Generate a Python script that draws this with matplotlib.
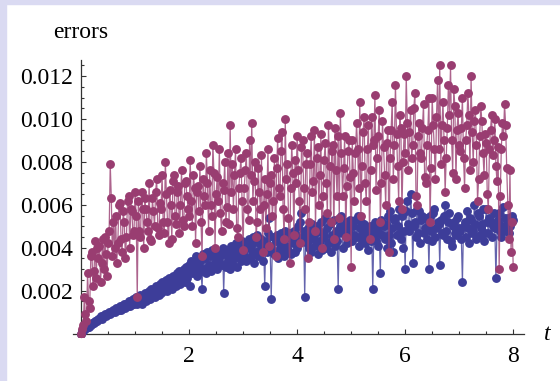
import numpy as np
import matplotlib
matplotlib.use("Agg")
import matplotlib.pyplot as plt
from matplotlib.patches import Rectangle
from matplotlib.ticker import MultipleLocator, FixedLocator

# sampled every 0.02 in t (0..8), values in units of 1e-4
dt = 0.02
blue_e4 = [
    0, 1, 1, 2, 2, 3, 3, 3, 4, 4,
    5, 5, 5, 6, 6, 6, 7, 7, 8, 7,
    8, 8, 9, 8, 9, 9, 10, 9, 10, 10,
    11, 10, 12, 11, 12, 11, 13, 11, 13, 12,
    14, 12, 14, 13, 15, 13, 15, 14, 16, 14,
    15,
    # 1 - 2
    17, 14, 16, 15, 18, 14, 17, 16, 19, 15,
    18, 17, 20, 16, 21, 18, 20, 17, 22, 19,
    21, 18, 23, 19, 24, 20, 22, 21, 25, 20,
    26, 22, 24, 21, 27, 23, 25, 22, 28, 24,
    29, 23, 27, 25, 30, 24, 31, 26, 29, 32,
    # 2 - 3
    22, 34, 28, 33, 30, 36, 27, 35, 31, 34,
    29, 21, 37, 30, 35, 28, 38, 32, 36, 29,
    39, 31, 37, 33, 35, 30, 38, 34, 36, 32,
    40, 19, 37, 31, 39, 34, 36, 30, 41, 33,
    38, 35, 42, 31, 39, 36, 40, 34, 43, 37,
    # 3 - 4
    36, 42, 34, 40, 44, 35, 41, 37, 45, 33,
    43, 38, 46, 36, 42, 39, 44, 34, 40, 22,
    43, 38, 47, 54, 41, 16, 39, 45, 37, 43,
    46, 35, 44, 40, 47, 38, 42, 36, 48, 41,
    45, 39, 47, 37, 44, 42, 48, 38, 46, 40,
    # 4 - 5
    50, 44, 52, 56, 45, 48, 17, 46, 42, 49,
    40, 47, 38, 51, 44, 46, 41, 50, 37, 48,
    43, 52, 39, 47, 45, 54, 40, 49, 42, 51,
    38, 46, 44, 53, 41, 48, 43, 21, 47, 50,
    55, 40, 49, 46, 52, 42, 48, 45, 53, 51,
    # 5 - 6
    43, 50, 46, 53, 45, 55, 41, 49, 52, 44,
    47, 51, 42, 48, 45, 39, 50, 43, 47, 21,
    46, 52, 43, 49, 41, 47, 28, 53, 46, 50,
    44, 51, 40, 55, 46, 57, 42, 49, 38, 53,
    54, 46, 50, 58, 47, 44, 55, 40, 48, 30,
    # 6 - 7
    57, 62, 51, 48, 65, 56, 33, 50, 52, 45,
    58, 47, 57, 42, 53, 55, 47, 49, 54, 44,
    50, 30, 55, 48, 43, 56, 58, 45, 49, 52,
    51, 32, 53, 47, 46, 55, 60, 48, 44, 52,
    56, 43, 41, 50, 52, 47, 46, 54, 55, 49,
    # 7 - 8
    48, 44, 24, 50, 52, 45, 57, 49, 42, 54,
    53, 47, 48, 60, 51, 44, 56, 55, 46, 49,
    51, 58, 43, 47, 58, 52, 47, 54, 52, 45,
    50, 56, 49, 26, 49, 53, 56, 48, 45, 50,
    59, 54, 48, 51, 54, 47, 50, 52, 55, 53,
]
purple_e4 = [
    0, 2, 4, 17, 9, 6, 28, 15, 12, 36,
    38, 22, 29, 43, 26, 40, 35, 41, 24, 33,
    44, 30, 45, 37, 27, 42, 48, 79, 63, 36,
    52, 40, 55, 33, 42, 60, 61, 44, 38, 57,
    52, 35, 45, 62, 64, 40, 58, 57, 46, 48,
    66,
    # 1 - 2
    55, 17, 62, 48, 45, 66, 58, 40, 63, 58,
    52, 48, 70, 44, 43, 63, 57, 50, 66, 72,
    49, 46, 61, 58, 74, 52, 47, 80, 65, 52,
    42, 67, 60, 44, 71, 74, 55, 51, 66, 69,
    47, 60, 76, 53, 50, 70, 71, 64, 58, 55,
    # 2 - 3
    81, 62, 50, 74, 68, 42, 66, 69, 57, 78,
    52, 36, 72, 64, 60, 84, 70, 48, 76, 60,
    55, 88, 75, 40, 65, 73, 62, 86, 56, 48,
    70, 67, 80, 52, 59, 84, 51, 97, 66, 79,
    58, 74, 86, 49, 45, 68, 75, 82, 62, 39,
    # 3 - 4
    68, 76, 84, 58, 53, 90, 74, 98, 62, 71,
    80, 45, 52, 77, 66, 58, 83, 38, 60, 72,
    49, 65, 86, 41, 70, 74, 55, 62, 82, 36,
    77, 91, 68, 64, 85, 94, 58, 44, 100, 72,
    79, 54, 33, 68, 88, 75, 46, 81, 70, 92,
    # 4 - 5
    76, 62, 42, 87, 90, 68, 58, 79, 84, 35,
    52, 79, 92, 66, 71, 95, 48, 82, 87, 60,
    74, 93, 40, 64, 81, 89, 70, 56, 97, 78,
    52, 85, 88, 44, 96, 76, 64, 92, 54, 103,
    84, 64, 77, 92, 45, 69, 85, 90, 73, 31,
    # 5 - 6
    90, 75, 62, 84, 98, 86, 68, 108, 55, 78,
    94, 101, 70, 62, 86, 97, 44, 76, 101, 88,
    90, 111, 67, 82, 92, 104, 52, 70, 99, 87,
    74, 60, 89, 95, 38, 82, 95, 108, 72, 88,
    116, 93, 78, 62, 102, 96, 58, 80, 93, 84,
    # 6 - 7
    120, 98, 76, 94, 104, 82, 88, 105, 112, 64,
    60, 92, 98, 84, 82, 96, 107, 73, 70, 88,
    95, 110, 52, 77, 110, 97, 86, 72, 101, 118,
    86, 125, 79, 97, 108, 90, 66, 82, 96, 116,
    102, 125, 90, 75, 114, 106, 72, 95, 103, 88,
    # 7 - 8
    85, 96, 110, 82, 68, 90, 97, 112, 102, 76,
    120, 94, 80, 99, 104, 88, 62, 72, 92, 106,
    99, 84, 74, 93, 89, 65, 58, 86, 95, 102,
    83, 90, 100, 78, 71, 87, 30, 64, 86, 98,
    92, 107, 97, 77, 60, 44, 76, 38, 52, 31,
]
x_ticks = [2, 4, 6, 8]
y_ticks = [0.002, 0.004, 0.006, 0.008, 0.010, 0.012]
y_ticklabels = ["0.002", "0.004", "0.006", "0.008", "0.010", "0.012"]

assert len(blue_e4) == len(purple_e4) == 401
blue = np.array(blue_e4) * 1e-4
purple = np.array(purple_e4) * 1e-4
t = np.arange(len(blue)) * dt

plt.rcParams['font.family'] = ['Liberation Serif', 'DejaVu Serif']

W, H = 560, 381
fig = plt.figure(figsize=(W / 100, H / 100), dpi=100, facecolor='white')

# lavender frame strips (top and left)
lav = '#dadaf2'
fig.patches.append(Rectangle((0, 1 - 4 / H), 1, 4 / H, transform=fig.transFigure,
                             color=lav, zorder=0))
fig.patches.append(Rectangle((0, 0), 6 / W, 1, transform=fig.transFigure,
                             color=lav, zorder=0))

ax = fig.add_axes([72.7 / W, 44 / H, (524 - 72.7) / W, 277 / H])
ax.set_facecolor('none')

c_blue = '#3d3d99'
c_purple = '#993d71'
# lines a bit lighter than the dots, like the original
ax.plot(t, blue, '-', color=c_blue, lw=0.9, alpha=0.8, zorder=2)
ax.plot(t, blue, 'o', color=c_blue, ms=6.4, mew=0, zorder=3)
ax.plot(t, purple, '-', color=c_purple, lw=0.9, alpha=0.8, zorder=4)
ax.plot(t, purple, 'o', color=c_purple, ms=6.4, mew=0, zorder=5)

ax.set_xlim(-0.155, 8.2)
ax.set_ylim(-0.00016, 0.01275)

for s in ['top', 'right']:
    ax.spines[s].set_visible(False)
ax.spines['left'].set_position(('data', 0))
ax.spines['bottom'].set_position(('data', 0))
ax.spines['left'].set_linewidth(0.9)
ax.spines['bottom'].set_linewidth(0.9)
ax.spines['left'].set_color('#333333')
ax.spines['bottom'].set_color('#333333')

ax.xaxis.set_major_locator(FixedLocator(x_ticks))
ax.xaxis.set_minor_locator(MultipleLocator(0.5))
ax.yaxis.set_major_locator(FixedLocator(y_ticks))
ax.yaxis.set_minor_locator(MultipleLocator(0.0005))
ax.set_yticklabels(y_ticklabels)
ax.tick_params(which='both', direction='in', color='#333333', width=0.8, labelsize=17)
ax.tick_params(which='major', length=3.5)
ax.tick_params(which='minor', length=2)
ax.tick_params(axis='y', pad=6)
ax.tick_params(axis='x', pad=9)

fig.text(80.5 / W, 1 - 33 / H, 'errors', ha='center', va='center', fontsize=17)
fig.text(547 / W, 1 - 335 / H, 't', ha='center', va='center', fontsize=17, style='italic')

fig.savefig('out.png', dpi=100, facecolor=fig.get_facecolor())
